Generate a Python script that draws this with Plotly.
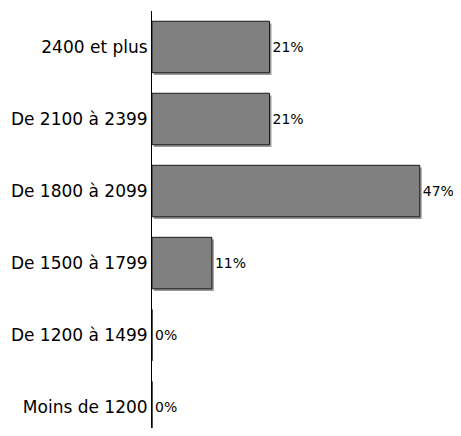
import plotly.graph_objects as go

categories = ["Moins de 1200", "De 1200 à 1499", "De 1500 à 1799",
              "De 1800 à 2099", "De 2100 à 2399", "2400 et plus"]
values = [0, 0, 10.6, 47.4, 20.8, 20.8]
labels = ["0%", "0%", "11%", "47%", "21%", "21%"]

bar_width = 0.715
fig = go.Figure()

# shadow
fig.add_trace(go.Bar(
    y=categories, x=values, orientation="h",
    base=0.35, width=bar_width, offset=-bar_width / 2 - 0.03,
    marker=dict(color="#9a9a9a", line=dict(width=0)),
    hoverinfo="skip", showlegend=False,
))
# main bars
fig.add_trace(go.Bar(
    y=categories, x=values, orientation="h",
    width=bar_width,
    marker=dict(color="#808080", line=dict(color="#1a1a1a", width=1)),
    text=labels, textposition="outside", cliponaxis=False,
    constraintext="none",
    textfont=dict(family="DejaVu Sans", size=14, color="black"),
    showlegend=False,
))

fig.update_layout(
    width=453, height=420,
    margin=dict(l=144, r=0, t=3, b=0),
    barmode="overlay",
    plot_bgcolor="white", paper_bgcolor="white",
    font=dict(family="DejaVu Sans", size=17, color="black"),
    xaxis=dict(range=[0, 54.7], visible=False, showgrid=False, zeroline=False),
    yaxis=dict(categoryorder="array", categoryarray=categories,
               range=[-0.29, 5.5], showline=True, linecolor="black", linewidth=1,
               ticks="", showgrid=False, zeroline=False, ticklabelstandoff=0,
               tickfont=dict(family="DejaVu Sans", size=17, color="black")),
)

fig.write_html("out.html")
